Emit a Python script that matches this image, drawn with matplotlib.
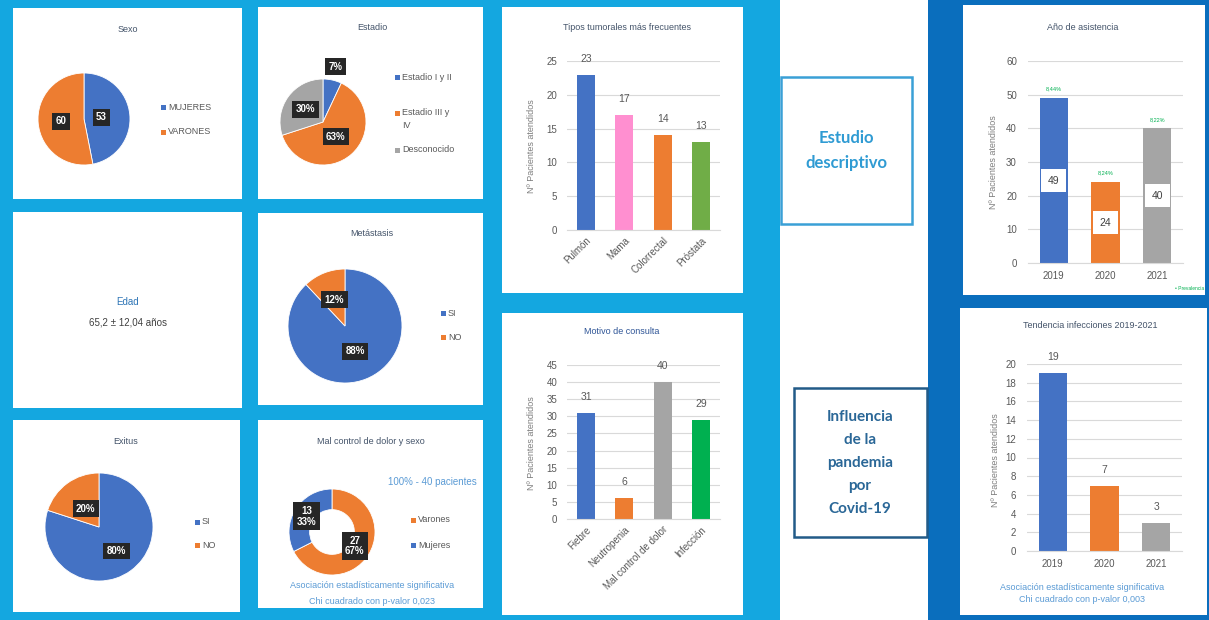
import numpy as np
import matplotlib
matplotlib.use("Agg")
import matplotlib.pyplot as plt
from matplotlib.patches import Rectangle

# ---------------- data ----------------
sexo_labels = ["MUJERES", "VARONES"]
sexo_values = [53, 60]

estadio_labels = ["Estadio I y II", "Estadio III y\nIV", "Desconocido"]
estadio_values = [7, 63, 30]

metastasis_labels = ["SI", "NO"]
metastasis_values = [88, 12]

exitus_labels = ["SI", "NO"]
exitus_values = [80, 20]

dolor_labels = ["Varones", "Mujeres"]
dolor_values = [27, 13]
dolor_pcts = [67, 33]

tumor_cats = ["Pulmón", "Mama", "Colorrectal", "Próstata"]
tumor_values = [23, 17, 14, 13]

motivo_cats = ["Fiebre", "Neutropenia", "Mal control de dolor", "Infección"]
motivo_values = [31, 6, 40, 29]

anio_cats = ["2019", "2020", "2021"]
anio_values = [49, 24, 40]
anio_prev = ["8,44%", "8,24%", "8,22%"]

infec_cats = ["2019", "2020", "2021"]
infec_values = [19, 7, 3]

edad_text = "65,2 ± 12,04 años"

# ---------------- style ----------------
BLUE = "#4472c4"
ORANGE = "#ed7d31"
GRAY = "#a5a5a5"
GREEN = "#70ad47"
GREEN2 = "#00b050"
PINK = "#ff8fd0"
LIGHTBG = "#14a7e0"
DARKBG = "#0a6ebd"
TITLE_C = "#44546a"
TXT_C = "#595959"
NOTE_C = "#5b9bd5"

plt.rcParams["font.family"] = ["Liberation Sans", "DejaVu Sans"]

W, H = 1209, 620
fig = plt.figure(figsize=(W / 100, H / 100), dpi=100)
fig.patch.set_facecolor("white")


def rect(x0, y0, x1, y1, fc, ec="none", lw=0, z=-5):
    fig.add_artist(Rectangle((x0 / W, 1 - y1 / H), (x1 - x0) / W, (y1 - y0) / H,
                             transform=fig.transFigure, facecolor=fc,
                             edgecolor=ec, linewidth=lw, zorder=z))


def ftext(x, y, s, **kw):
    kw.setdefault("ha", "center")
    kw.setdefault("va", "center")
    return fig.text(x / W, 1 - y / H, s, **kw)


def add_ax(x0, y0, x1, y1):
    ax = fig.add_axes([x0 / W, 1 - y1 / H, (x1 - x0) / W, (y1 - y0) / H])
    ax.patch.set_alpha(0)
    return ax


def legend(x, ys, labels, colors):
    for y, lab, c in zip(ys, labels, colors):
        rect(x - 2.5, y - 2.5, x + 2.5, y + 2.5, c, z=3)
        if "\n" in lab:
            ftext(x + 5, y - 5, lab, ha="left", va="top",
                  fontsize=6.5, color=TXT_C, linespacing=1.5)
        else:
            ftext(x + 5, y, lab, ha="left", va="center", fontsize=6.5, color=TXT_C)


def lab_box(ax, x, y, s):
    ax.text(x, y, s, ha="center", va="center", color="white", fontsize=7,
            fontweight="bold", linespacing=1.1,
            bbox=dict(boxstyle="square,pad=0.35", fc="#262626", ec="none"))


def pie_panel(cx, cy, r, values, colors, labels, dists, width=None):
    ax = add_ax(cx - r, cy - r, cx + r, cy + r)
    wp = dict(edgecolor="white", linewidth=0.6)
    if width:
        wp["width"] = width
    wedges, _ = ax.pie(values, colors=colors, startangle=90, counterclock=False,
                       radius=1, wedgeprops=wp)
    ax.set_xlim(-1, 1)
    ax.set_ylim(-1, 1)
    for w, s, d in zip(wedges, labels, dists):
        a = np.deg2rad((w.theta1 + w.theta2) / 2)
        lab_box(ax, d * np.cos(a), d * np.sin(a), s)
    return ax


def bar_panel(box, cats, vals, colors, ymax, step, width, rot, ypad):
    x0, y0, x1, y1 = box
    ax = add_ax(x0, y0, x1, y1)
    xs = np.arange(len(cats))
    ax.bar(xs, vals, width=width, color=colors, zorder=2)
    ax.set_xlim(-0.5, len(cats) - 0.5)
    ax.set_ylim(0, ymax)
    ax.set_yticks(np.arange(0, ymax + 0.1, step))
    ax.yaxis.grid(True, color="#d9d9d9", linewidth=0.8)
    ax.set_axisbelow(True)
    for sp in ["top", "right", "left"]:
        ax.spines[sp].set_visible(False)
    ax.spines["bottom"].set_color("#d9d9d9")
    ax.tick_params(axis="both", length=0, labelsize=7, labelcolor=TXT_C)
    ax.tick_params(axis="y", pad=ypad)
    ax.set_xticks(xs)
    if rot:
        ax.set_xticklabels(cats, rotation=45, ha="right", rotation_mode="anchor")
        ax.tick_params(axis="x", pad=4)
    else:
        ax.set_xticklabels(cats)
        ax.tick_params(axis="x", pad=6)
    ax.yaxis.set_major_formatter(matplotlib.ticker.FuncFormatter(lambda v, p: f"{v:g}"))
    return ax


# ---------------- backgrounds ----------------
rect(0, 0, 780, H, LIGHTBG, z=-10)
rect(928, 0, W, H, DARKBG, z=-10)

panels = [(13, 8, 242, 199), (258, 7, 483, 199), (502, 7, 743, 293),
          (13, 212, 242, 408), (258, 213, 483, 405),
          (13, 420, 240, 612), (258, 420, 483, 608), (502, 313, 743, 615),
          (963, 5, 1205, 295), (960, 308, 1207, 615)]
for p in panels:
    rect(*p, "white", z=-4)

# text boxes in the white strip
rect(781, 77, 912, 224, "white", ec="#3aa0d6", lw=1.8, z=-3)
ftext(846, 138, "Estudio", fontsize=12, color="#2f9bd3", family="Lato", fontweight="bold")
ftext(846, 163, "descriptivo", fontsize=12, color="#2f9bd3", family="Lato", fontweight="bold")

rect(794, 388, 927, 537, "white", ec="#225b88", lw=1.8, z=-3)
for yy, s in zip([417, 440, 463, 486, 509],
                 ["Influencia", "de la", "pandemia", "por", "Covid-19"]):
    ftext(860, yy, s, fontsize=11, color="#2a6797", family="Lato", fontweight="bold")

# ---------------- Sexo ----------------
ftext(128, 30, "Sexo", fontsize=6.5, color=TITLE_C)
pie_panel(84, 119, 46, sexo_values, [BLUE, ORANGE],
          [str(v) for v in sexo_values], [0.38, 0.5])
legend(163, [107, 132], sexo_labels, [BLUE, ORANGE])

# ---------------- Estadio ----------------
ftext(372, 27, "Estadio", fontsize=6.5, color=TITLE_C)
pie_panel(323, 122, 43, estadio_values, [BLUE, ORANGE, GRAY],
          [f"{v}%" for v in estadio_values], [1.32, 0.45, 0.5])
legend(397, [77, 113, 150], estadio_labels, [BLUE, ORANGE, GRAY])

# ---------------- Edad ----------------
ftext(128, 302, "Edad", fontsize=7, color="#2e75b6")
ftext(128, 322, edad_text, fontsize=7, color="#404040")

# ---------------- Metastasis ----------------
ftext(372, 234, "Metástasis", fontsize=6.5, color=TITLE_C)
pie_panel(345, 326, 57, metastasis_values, [BLUE, ORANGE],
          [f"{v}%" for v in metastasis_values], [0.48, 0.5])
legend(443, [313, 337], metastasis_labels, [BLUE, ORANGE])

# ---------------- Exitus ----------------
ftext(126, 441, "Exitus", fontsize=6.5, color=TITLE_C)
pie_panel(99, 527, 54, exitus_values, [BLUE, ORANGE],
          [f"{v}%" for v in exitus_values], [0.55, 0.42])
legend(197, [522, 545], exitus_labels, [BLUE, ORANGE])

# ---------------- Mal control de dolor y sexo ----------------
ftext(371, 442, "Mal control de dolor y sexo", fontsize=6.5, color=TITLE_C)
ftext(432, 482, "100% - 40 pacientes", fontsize=7, color=NOTE_C)
pie_panel(332, 532, 43, dolor_values, [ORANGE, BLUE],
          [f"{v}\n{p}%" for v, p in zip(dolor_values, dolor_pcts)], [0.62, 0.7],
          width=0.48)
legend(413, [520, 545], dolor_labels, [ORANGE, BLUE])
ftext(372, 586, "Asociación estadísticamente significativa", fontsize=6.5, color=NOTE_C)
ftext(372, 601, "Chi cuadrado con p-valor 0,023", fontsize=6.5, color=NOTE_C)

# ---------------- Tipos tumorales ----------------
ftext(627, 27, "Tipos tumorales más frecuentes", fontsize=6.5, color=TITLE_C)
ax = bar_panel((567, 61, 720, 230), tumor_cats, tumor_values,
               [BLUE, PINK, ORANGE, GREEN], 25, 5, 0.47, True, 7)
for i, v in enumerate(tumor_values):
    ax.annotate(str(v), (i, v), xytext=(0, 11.5), textcoords="offset points",
                ha="center", va="center", fontsize=7.5, color=TXT_C)
ftext(532, 146, "Nº Pacientes atendidos", rotation=90, fontsize=6.5, color="#7f7f7f")

# ---------------- Motivo de consulta ----------------
ftext(622, 332, "Motivo de consulta", fontsize=6.5, color="#2f5597")
ax = bar_panel((567, 365, 720, 519), motivo_cats, motivo_values,
               [BLUE, ORANGE, GRAY, GREEN2], 45, 5, 0.47, True, 7)
for i, v in enumerate(motivo_values):
    ax.annotate(str(v), (i, v), xytext=(0, 11.5), textcoords="offset points",
                ha="center", va="center", fontsize=7.5, color=TXT_C)
ftext(532, 443, "Nº Pacientes atendidos", rotation=90, fontsize=6.5, color="#7f7f7f")

# ---------------- Año de asistencia ----------------
ftext(1083, 27, "Año de asistencia", fontsize=6.5, color=TITLE_C)
ax = bar_panel((1028, 61, 1183, 263), anio_cats, anio_values,
               [BLUE, ORANGE, GRAY], 60, 10, 0.55, False, 8)
for i, (v, pv) in enumerate(zip(anio_values, anio_prev)):
    ax.text(i, v / 2, str(v), ha="center", va="center", fontsize=7.5, color="#404040",
            bbox=dict(boxstyle="square,pad=0.65", fc="white", ec="none"))
    ax.annotate(pv, (i, v), xytext=(0, 6.5), textcoords="offset points",
                ha="center", va="center", fontsize=4, color=GREEN2)
ftext(993, 162, "Nº Pacientes atendidos", rotation=90, fontsize=6.5, color="#7f7f7f")
ftext(1190, 289, "• Prevalencia", fontsize=3.5, color=GREEN2)

# ---------------- Tendencia infecciones ----------------
ftext(1090, 325, "Tendencia infecciones 2019-2021", fontsize=6.5, color=TITLE_C)
ax = bar_panel((1027, 364, 1182, 551), infec_cats, infec_values,
               [BLUE, ORANGE, GRAY], 20, 2, 0.55, False, 8)
for i, v in enumerate(infec_values):
    ax.annotate(str(v), (i, v), xytext=(0, 11.5), textcoords="offset points",
                ha="center", va="center", fontsize=7.5, color=TXT_C)
ftext(995, 460, "Nº Pacientes atendidos", rotation=90, fontsize=6.5, color="#7f7f7f")
ftext(1082, 587, "Asociación estadísticamente significativa", fontsize=6.5, color=NOTE_C)
ftext(1082, 599, "Chi cuadrado con p-valor 0,003", fontsize=6.5, color=NOTE_C)

fig.savefig("out.png", dpi=100, facecolor=fig.get_facecolor())
